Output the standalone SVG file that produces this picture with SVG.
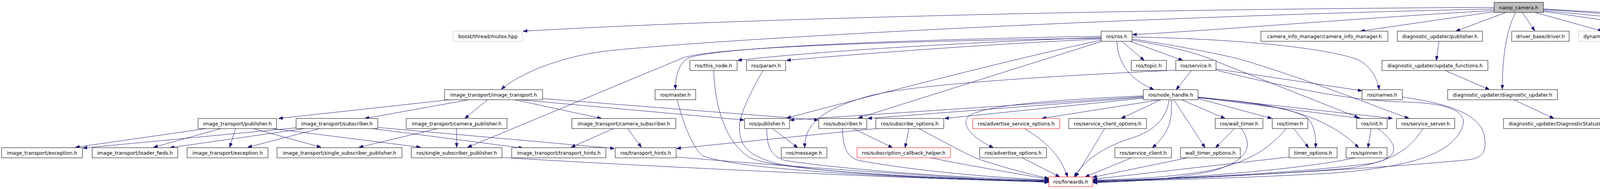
<svg xmlns="http://www.w3.org/2000/svg" width="5216" height="485" viewBox="0 0 5216 485">
<style>
.node rect{fill:#ffffff;stroke:#000000;stroke-width:1}
.node.grey rect{stroke:#bfbfbf}
.node.red rect{stroke:#ff0000}
.node.root rect{fill:#bfbfbf;stroke:#000000}
.node text{font-family:"DejaVu Sans","Liberation Sans",sans-serif;font-size:12.5px;fill:#000000;text-anchor:middle}
#edges path{fill:none;stroke:#191970;stroke-width:1;marker-end:url(#ah)}
</style>
<defs>
<marker id="ah" viewBox="0 0 11 8" refX="11" refY="4" markerWidth="11" markerHeight="8" markerUnits="userSpaceOnUse" orient="auto">
<path d="M0,0L11,4L0,8z" fill="#191970" stroke="#191970" stroke-width="1"/>
</marker>
</defs>
<rect x="0" y="0" width="5216" height="485" fill="#ffffff"/>
<g id="edges">
<path d="M3825,19 C3100,22 2000,42 1339,80"/>
<path d="M3825,23 C3000,40 1900,95 1560,130 C1430,145 1330,190 1283,229"/>
<path d="M3825,27 C3500,45 3150,75 2899,89"/>
<path d="M3825,30 L3483,80"/>
<path d="M3855,32 L3727,80"/>
<path d="M3880,32 C3855,80 3846,150 3846,229"/>
<path d="M3897,32 L3929,79"/>
<path d="M3930,32 L4102,80"/>
<path d="M3951,29 L4296,80"/>
<path d="M3951,27 L4497,80"/>
<path d="M3951,24 L4734,80"/>
<path d="M3951,23 L4951,80"/>
<path d="M2819,96 C2500,108 2100,130 1888,155"/>
<path d="M2819,100 C2550,112 2200,138 2013,155"/>
<path d="M2819,93 C2400,100 1850,118 1765,148 C1738,160 1729,195 1729,229"/>
<path d="M2819,98 C2400,104 1820,118 1745,150 L1197,378"/>
<path d="M2819,103 C2600,150 2250,240 2014,303"/>
<path d="M2821,106 L2197,303"/>
<path d="M2872,106 L2929,155"/>
<path d="M2893,106 L3028,155"/>
<path d="M2859,106 C2862,165 2895,205 2954,230"/>
<path d="M2898,95 C3200,100 3420,128 3480,155 C3510,172 3525,200 3531,230"/>
<path d="M2898,100 C3020,118 3140,142 3185,155 C3350,205 3500,265 3607,304"/>
<path d="M2898,103 C2990,118 3060,135 3100,152 L3478,302"/>
<path d="M1160,255 L713,304"/>
<path d="M1200,256 L934,304"/>
<path d="M1248,256 L1190,304"/>
<path d="M1318,256 L1540,304"/>
<path d="M1330,256 L1905,308"/>
<path d="M1389,253 L2095,308"/>
<path d="M528,330 L193,378"/>
<path d="M565,330 L393,378"/>
<path d="M603,330 L588,378"/>
<path d="M649,330 L822,378"/>
<path d="M698,330 L1077,378"/>
<path d="M758,328 L212,380"/>
<path d="M780,330 L435,379"/>
<path d="M818,330 L634,378"/>
<path d="M953,330 L1339,380"/>
<path d="M967,327 L1573,381"/>
<path d="M1120,330 L919,378"/>
<path d="M1169,330 L1169,378"/>
<path d="M1570,330 L1462,378"/>
<path d="M1607,330 L1642,378"/>
<path d="M2927,248 L2022,308"/>
<path d="M2927,250 L2221,304"/>
<path d="M2927,252 L2418,304"/>
<path d="M2970,256 L2667,304"/>
<path d="M2972,256 L2870,304"/>
<path d="M2927,246 C2700,256 2510,270 2478,300 C2460,322 2490,355 2543,379"/>
<path d="M2993,256 C2985,310 2950,340 2880,360 C2810,385 2770,420 2750,454"/>
<path d="M2998,256 C3003,310 2990,345 2950,379"/>
<path d="M3005,256 L3085,379"/>
<path d="M3025,256 L3136,304"/>
<path d="M3067,253 L3256,304"/>
<path d="M3067,250 C3200,262 3330,280 3352,308 C3367,330 3369,355 3368,379"/>
<path d="M3067,251 C3250,262 3390,290 3478,379"/>
<path d="M3067,250 L3484,304"/>
<path d="M3067,249 L3565,304"/>
<path d="M3050,181 L3011,230"/>
<path d="M3010,180 C2700,195 2350,215 2230,245 C2100,280 2060,320 2060,379"/>
<path d="M3113,177 L3487,233"/>
<path d="M3113,180 C3300,225 3450,258 3600,262 C3720,265 3760,290 3742,330 C3710,400 3600,430 3400,445 C3150,458 2950,463 2798,466"/>
<path d="M3590,249 C3700,265 3790,290 3800,350 C3808,395 3790,405 3760,410 C3500,435 3050,458 2798,467"/>
<path d="M3643,330 C3610,380 3570,415 3450,432 C3200,452 2950,462 2798,465"/>
<path d="M3510,330 L3502,379"/>
<path d="M3527,330 C3575,365 3590,400 3520,418 C3300,448 2950,460 2798,464"/>
<path d="M3470,405 C3300,440 3000,458 2798,468"/>
<path d="M3300,403 L2798,460"/>
<path d="M3293,330 C3250,380 3200,415 3100,437 C3000,455 2900,460 2798,462"/>
<path d="M3160,330 L3112,379"/>
<path d="M3178,330 C3205,370 3205,410 3100,440 C3000,460 2900,466 2798,469"/>
<path d="M3312,330 L3350,379"/>
<path d="M3040,405 L2797,455"/>
<path d="M2897,405 L2778,454"/>
<path d="M2828,330 L2753,454"/>
<path d="M2623,330 C2680,365 2715,400 2733,454"/>
<path d="M2617,405 L2713,454"/>
<path d="M2352,330 C2420,365 2470,395 2510,410 C2580,433 2640,448 2685,458"/>
<path d="M2382,405 C2480,425 2600,445 2685,460"/>
<path d="M2185,330 L2285,379"/>
<path d="M2327,330 L2317,379"/>
<path d="M2242,330 L1732,381"/>
<path d="M2157,330 C2157,380 2170,405 2200,412 C2350,440 2550,456 2685,462"/>
<path d="M1978,330 L2042,379"/>
<path d="M1963,330 C1963,380 1975,400 2010,412 C2200,440 2500,458 2685,463"/>
<path d="M1827,181 C1830,260 1850,360 1920,405 C2000,440 2400,458 2685,464"/>
<path d="M1953,181 C1920,240 1890,300 1893,330 C1895,380 1920,400 1990,420 C2150,450 2500,462 2685,465"/>
<path d="M1733,255 C1745,300 1770,380 1800,400 C1900,440 2400,460 2685,466"/>
<path d="M1285,404 C1500,418 2200,455 2685,467"/>
<path d="M1731,403 C2000,425 2400,455 2685,468"/>
<path d="M3684,106 L3677,155"/>
<path d="M3700,181 L3813,230"/>
<path d="M3873,255 L3978,304"/>
</g>
<g id="n_root" class="node root"><rect x="3825" y="6" width="126" height="26"/><text x="3888" y="23.5">naoqi_camera.h</text></g>
<g id="n_mutex" class="node grey"><rect x="1160" y="80" width="178" height="26"/><text x="1249" y="97.5">boost/thread/mutex.hpp</text></g>
<g id="n_ros" class="node"><rect x="2819" y="80" width="79" height="26"/><text x="2858.5" y="97.5">ros/ros.h</text></g>
<g id="n_cim" class="node"><rect x="3228" y="80" width="325" height="26"/><text x="3390.5" y="97.5">camera_info_manager/camera_info_manager.h</text></g>
<g id="n_dpub" class="node"><rect x="3577" y="80" width="218" height="26"/><text x="3686" y="97.5">diagnostic_updater/publisher.h</text></g>
<g id="n_driver" class="node"><rect x="3870" y="80" width="147" height="26"/><text x="3943.5" y="97.5">driver_base/driver.h</text></g>
<g id="n_dyn" class="node grey"><rect x="4041" y="80" width="211" height="26"/><text x="4146.5" y="97.5">dynamic_reconfigure/server.h</text></g>
<g id="n_caminfo" class="node grey"><rect x="4276" y="80" width="197" height="26"/><text x="4374.5" y="97.5">sensor_msgs/CameraInfo.h</text></g>
<g id="n_alv" class="node grey"><rect x="4498" y="80" width="214" height="26"/><text x="4605" y="97.5">alproxies/alvideodeviceproxy.h</text></g>
<g id="n_naoqinode" class="node"><rect x="4736" y="80" width="192" height="26"/><text x="4832" y="97.5">naoqi_driver/naoqi_node.h</text></g>
<g id="n_cfg" class="node grey"><rect x="4952" y="80" width="259" height="26"/><text x="5081.5" y="97.5">naoqi_sensors/NaoqiCameraConfig.h</text></g>
<g id="n_thisnode" class="node"><rect x="1766" y="155" width="121" height="26"/><text x="1826.5" y="172.5">ros/this_node.h</text></g>
<g id="n_param" class="node"><rect x="1911" y="155" width="100" height="26"/><text x="1961" y="172.5">ros/param.h</text></g>
<g id="n_topic" class="node"><rect x="2896" y="155" width="90" height="26"/><text x="2941" y="172.5">ros/topic.h</text></g>
<g id="n_service" class="node"><rect x="3010" y="155" width="103" height="26"/><text x="3061.5" y="172.5">ros/service.h</text></g>
<g id="n_updfn" class="node"><rect x="3538" y="155" width="271" height="26"/><text x="3673.5" y="172.5">diagnostic_updater/update_functions.h</text></g>
<g id="n_it" class="node"><rect x="1138" y="230" width="251" height="26"/><text x="1263.5" y="247.5">image_transport/image_transport.h</text></g>
<g id="n_master" class="node"><rect x="1677" y="230" width="104" height="26"/><text x="1729" y="247.5">ros/master.h</text></g>
<g id="n_nh" class="node"><rect x="2927" y="230" width="140" height="26"/><text x="2997" y="247.5">ros/node_handle.h</text></g>
<g id="n_names" class="node"><rect x="3487" y="230" width="103" height="26"/><text x="3538.5" y="247.5">ros/names.h</text></g>
<g id="n_dupd" class="node"><rect x="3706" y="230" width="281" height="26"/><text x="3846.5" y="247.5">diagnostic_updater/diagnostic_updater.h</text></g>
<g id="n_itpub" class="node"><rect x="507" y="304" width="201" height="26"/><text x="607.5" y="321.5">image_transport/publisher.h</text></g>
<g id="n_itsub" class="node"><rect x="758" y="304" width="209" height="26"/><text x="862.5" y="321.5">image_transport/subscriber.h</text></g>
<g id="n_itcpub" class="node"><rect x="1040" y="304" width="258" height="26"/><text x="1169" y="321.5">image_transport/camera_publisher.h</text></g>
<g id="n_itcsub" class="node"><rect x="1464" y="304" width="266" height="26"/><text x="1597" y="321.5">image_transport/camera_subscriber.h</text></g>
<g id="n_pub" class="node"><rect x="1906" y="304" width="115" height="26"/><text x="1963.5" y="321.5">ros/publisher.h</text></g>
<g id="n_sub" class="node"><rect x="2096" y="304" width="123" height="26"/><text x="2157.5" y="321.5">ros/subscriber.h</text></g>
<g id="n_subopt" class="node"><rect x="2242" y="304" width="174" height="26"/><text x="2329" y="321.5">ros/subscribe_options.h</text></g>
<g id="n_advsrvopt" class="node red"><rect x="2490" y="304" width="223" height="26"/><text x="2601.5" y="321.5">ros/advertise_service_options.h</text></g>
<g id="n_scopt" class="node"><rect x="2736" y="304" width="199" height="26"/><text x="2835.5" y="321.5">ros/service_client_options.h</text></g>
<g id="n_walltimer" class="node"><rect x="3111" y="304" width="122" height="26"/><text x="3172" y="321.5">ros/wall_timer.h</text></g>
<g id="n_timer" class="node"><rect x="3257" y="304" width="91" height="26"/><text x="3302.5" y="321.5">ros/timer.h</text></g>
<g id="n_init" class="node"><rect x="3473" y="304" width="78" height="26"/><text x="3512" y="321.5">ros/init.h</text></g>
<g id="n_srvsrv" class="node"><rect x="3575" y="304" width="149" height="26"/><text x="3649.5" y="321.5">ros/service_server.h</text></g>
<g id="n_dsw" class="node"><rect x="3849" y="304" width="320" height="26"/><text x="4009" y="321.5">diagnostic_updater/DiagnosticStatusWrapper.h</text></g>
<g id="n_itexc1" class="node"><rect x="4" y="379" width="207" height="26"/><text x="107.5" y="396.5">image_transport/exception.h</text></g>
<g id="n_itldr" class="node"><rect x="236" y="379" width="219" height="26"/><text x="345.5" y="396.5">image_transport/loader_fwds.h</text></g>
<g id="n_itexc2" class="node"><rect x="479" y="379" width="207" height="26"/><text x="582.5" y="396.5">image_transport/exception.h</text></g>
<g id="n_itssp" class="node"><rect x="709" y="379" width="320" height="26"/><text x="869" y="396.5">image_transport/single_subscriber_publisher.h</text></g>
<g id="n_ssp" class="node"><rect x="1053" y="379" width="232" height="26"/><text x="1169" y="396.5">ros/single_subscriber_publisher.h</text></g>
<g id="n_itth" class="node"><rect x="1310" y="379" width="241" height="26"/><text x="1430.5" y="396.5">image_transport/transport_hints.h</text></g>
<g id="n_th" class="node"><rect x="1575" y="379" width="156" height="26"/><text x="1653" y="396.5">ros/transport_hints.h</text></g>
<g id="n_msg" class="node"><rect x="2000" y="379" width="117" height="26"/><text x="2058.5" y="396.5">ros/message.h</text></g>
<g id="n_sch" class="node red"><rect x="2194" y="379" width="239" height="26"/><text x="2313.5" y="396.5">ros/subscription_callback_helper.h</text></g>
<g id="n_advopt" class="node"><rect x="2508" y="379" width="171" height="26"/><text x="2593.5" y="396.5">ros/advertise_options.h</text></g>
<g id="n_sc" class="node"><rect x="2854" y="379" width="145" height="26"/><text x="2926.5" y="396.5">ros/service_client.h</text></g>
<g id="n_wto" class="node"><rect x="3022" y="379" width="153" height="26"/><text x="3098.5" y="396.5">wall_timer_options.h</text></g>
<g id="n_to" class="node"><rect x="3300" y="379" width="123" height="26"/><text x="3361.5" y="396.5">timer_options.h</text></g>
<g id="n_spin" class="node"><rect x="3446" y="379" width="105" height="26"/><text x="3498.5" y="396.5">ros/spinner.h</text></g>
<g id="n_fwd" class="node red"><rect x="2685" y="454" width="112" height="25"/><text x="2741" y="471">ros/forwards.h</text></g>
</svg>
